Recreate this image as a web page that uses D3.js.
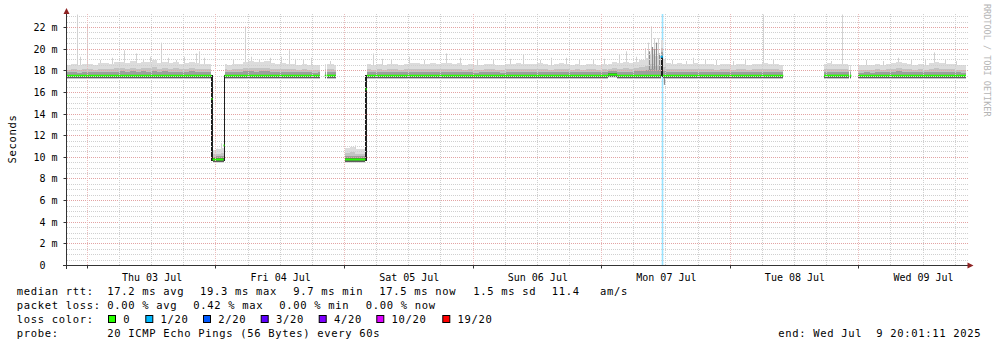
<!DOCTYPE html>
<html><head><meta charset="utf-8">
<script src="https://cdn.jsdelivr.net/npm/d3@7/dist/d3.min.js"></script>
<style>
body{margin:0;background:#fff;}
svg{display:block;font-family:"DejaVu Sans Mono",monospace;}
svg text{white-space:pre;}
</style></head><body>
<svg id="c" width="997" height="347"></svg>
<script>
// ---------------- DATA ----------------
const startTime = new Date(2025, 6, 2, 20, 1, 11);
const endTime   = new Date(2025, 6, 9, 20, 1, 11);
const yTickValues = [0, 2, 4, 6, 8, 10, 12, 14, 16, 18, 20, 22];
const yUnit = "m";

// piecewise median RTT (ms) — hours after start
const segStart  = [0,     27.15, 27.35, 29.4,  29.6,  48.3,  48.65, 52.1,  55.9,  56.15, 101.2, 102.9, 111.0, 111.4, 141.5, 146.35, 147.9];
const segEnd    = [27.15, 27.35, 29.4,  29.6,  47.4,  48.5,  50.35, 55.9,  56.15, 101.2, 102.9, 111.0, 111.4, 133.9, 146.2, 146.6,  168];
const segMedian = [17.55, 15.4,  9.8,   11.1,  17.55, 17.55, 17.55, 9.8,   16.3,  17.55, 17.65, 17.55, 19.3,  17.55, 17.55, 17.55,  17.55];
const segCoreLo = [17.33, 9.65,  9.58,  9.65,  17.33, 17.33, 17.33, 9.58,  9.65,  17.33, 17.4,  17.33, 17.45, 17.33, 17.33, 17.33,  17.33];
const segCoreHi = [17.65, 17.6,  9.9,   17.6,  17.65, 17.65, 17.65, 9.9,   17.6,  17.65, 17.75, 17.65, 19.4,  17.65, 17.65, 17.65,  17.65];
const segLoss   = [0,     0,     0,     0,     0,     0,     0,     0,     0,     0,     0,     0,     1,     0,     0,     0,      0];

// hourly height of the smoke (max ping) above the median, ms
const smokeTopDelta = [
  1.0, 1.1, 0.95, 1.05, 1.1, 1.0, 1.15, 1.2, 1.1, 1.25, 1.3, 1.2,
  1.35, 1.2, 1.3, 1.25, 1.4, 1.2, 1.3, 1.15, 1.25, 1.1, 1.2, 1.3,
  1.2, 1.1, 1.05, 0.9, 1.0, 1.1, 1.0, 1.05, 1.1, 1.3, 1.35, 1.25,
  1.3, 1.35, 1.2, 1.1, 1.15, 1.05, 1.1, 1.0, 1.05, 1.0, 0.95, 1.0,
  1.05, 1.1, 1.0, 1.0, 1.1, 1.2, 1.0, 0.95, 1.05, 1.0, 1.1, 1.0,
  1.05, 1.1, 1.0, 1.1, 1.2, 1.15, 1.1, 1.05, 1.15, 1.1, 1.2, 1.15,
  1.1, 1.15, 1.0, 1.05, 0.95, 1.0, 1.1, 1.05, 1.0, 0.95, 1.05, 1.1,
  1.15, 1.1, 1.05, 1.1, 1.15, 1.05, 1.0, 1.1, 1.15, 1.05, 1.0, 1.05,
  1.0, 1.1, 1.05, 1.0, 1.1, 1.0, 1.15, 1.2, 1.25, 1.2, 1.3, 1.4,
  1.6, 2.0, 1.8, 1.5, 1.2, 1.1, 1.15, 1.05, 1.1, 1.2, 1.1, 1.05,
  1.1, 1.0, 1.05, 1.1, 1.0, 1.05, 1.1, 1.0, 1.05, 1.1, 1.15, 1.05,
  1.05, 1.0, 1.0, 1.0, 1.0, 1.0, 1.0, 1.0, 1.0, 1.1, 1.15, 1.1,
  1.1, 1.05, 1.0, 1.0, 0.95, 1.0, 0.95, 1.05, 1.0, 1.1, 1.15, 1.3,
  1.2, 1.05, 1.0, 1.1, 1.0, 1.15, 1.25, 1.2, 1.05, 1.1, 1.0, 0.95
];

// single slow pings (light smoke spikes): hour, ms
const spikeHour = [2.1, 2.75, 4.1, 6.35, 8.6, 11.0, 13.2, 14.4, 15.7, 17.85, 19.2, 20.7, 22.2, 24.4, 25.0, 25.9,
  28.2, 29.0, 31.2, 33.55, 34.7, 36.2, 38.1, 40.3, 41.8, 42.9, 44.25, 45.9, 49.3, 53.0, 54.1,
  57.35, 59.0, 60.8, 64.2, 67.0, 71.1, 73.55, 76.9, 79.8, 82.9, 85.4, 88.5, 90.7, 93.5, 95.9, 98.4,
  100.6, 103.4, 104.7, 106.5, 108.1, 108.65, 109.3, 109.8, 110.55, 113.3, 115.9, 117.1, 119.3, 121.5,
  124.6, 126.8, 130.2, 132.0, 142.9, 144.9, 149.5, 152.6, 155.4, 157.9, 160.35, 162.2, 164.1, 166.2];
const spikeTop  = [23.2, 19.3, 22.3, 19.0, 19.2, 19.9, 19.6, 19.1, 19.3, 20.6, 19.2, 19.0, 19.3, 19.6, 19.8, 19.2,
  10.8, 11.3, 19.0, 22.1, 19.3, 19.0, 19.2, 19.3, 19.9, 19.1, 19.0, 19.2, 18.9, 10.8, 11.1,
  19.6, 19.1, 19.0, 19.3, 19.0, 19.6, 19.2, 19.0, 19.0, 19.1, 19.5, 19.0, 19.2, 19.2, 19.0, 19.0,
  19.1, 19.5, 19.8, 19.3, 20.1, 20.6, 22.1, 21.0, 21.0, 19.0, 18.9, 19.2, 19.0, 19.0,
  18.9, 19.1, 23.2, 19.0, 18.9, 23.2, 19.0, 18.9, 19.2, 19.0, 19.1, 19.7, 19.0, 18.9];

// dense bursts (darker smoke): hour, ms
const burstHour = [108.9, 109.5, 109.85, 110.3, 110.7, 111.8];
const burstTop  = [19.8, 20.2, 20.0, 20.6, 19.6, 16.7];

// loss bars: start hour, end hour, loss class index
const lossBarStart = [111.2];
const lossBarEnd   = [111.5];
const lossBarClass = [1];

const lossLabels = ["0", "1/20", "2/20", "3/20", "4/20", "10/20", "19/20"];
const lossColors = ["#26ff00", "#00b8ff", "#0059ff", "#5e00ff", "#7e00ff", "#dd00ff", "#ff0000"];

const rttStatValues = [17.2, 19.3, 9.7, 17.5];
const statNames = ["avg", "max", "min", "now"];
const rttSd = 1.5;
const rttAmS = 11.4;
const lossStatValues = [0.00, 0.42, 0.00, 0.00];
const probeText = "20 ICMP Echo Pings (56 Bytes) every 60s";
const endText = "end: Wed Jul  9 20:01:11 2025";

// ---------------- LAYOUT ----------------
const L = 66, R = 966, plotTop = 14, axisY = 265.5;
const svg = d3.select("#c");
const x = d3.scaleTime().domain([startTime, endTime]).range([L, R]);
const y = d3.scaleLinear().domain([0, 22]).range([axisY, 27.5]);
const yMax = y.invert(plotTop);
const xh = h => x(new Date(startTime.getTime() + h * 3600e3));
const crisp = v => Math.floor(v) + 0.5;

const gData = svg.append("g");
const gGrid = svg.append("g");
const gAxis = svg.append("g");

// loss bars
lossBarStart.forEach((s, i) => {
  gData.append("rect")
    .attr("x", xh(s)).attr("width", xh(lossBarEnd[i]) - xh(s))
    .attr("y", plotTop).attr("height", axisY - plotTop)
    .attr("fill", lossColors[lossBarClass[i]]).attr("opacity", 0.4);
});

function medianAt(h) {
  for (let i = 0; i < segStart.length; i++) if (h >= segStart[i] && h < segEnd[i]) return segMedian[i];
  return 17.55;
}
// light spikes
spikeHour.forEach((h, i) => {
  const xx = crisp(xh(h));
  gData.append("line").attr("x1", xx).attr("x2", xx)
    .attr("y1", y(medianAt(h))).attr("y2", Math.max(plotTop, y(spikeTop[i])))
    .attr("stroke", "#d2d2d2").attr("stroke-width", 1);
});

const bands = [
  {lo: -0.3,  frac: 1.0,  color: "#dcdcdc"},
  {lo: -0.27, frac: 0.55, color: "#c4c4c4"},
  {lo: -0.24, frac: 0.3,  color: "#9e9e9e"}
];
function segPoints(s, e) {
  const pts = [s];
  for (let h = Math.floor(s) + 1; h < e; h++) pts.push(h);
  pts.push(e);
  return pts;
}
const topD = p => smokeTopDelta[Math.min(167, Math.floor(p))];

function drawBand(b) {
  segStart.forEach((s, i) => {
    const m = segMedian[i];
    const pts = segPoints(s, segEnd[i]);
    const area = d3.area().curve(d3.curveStepAfter)
      .x(p => xh(p)).y0(() => y(m + b.lo)).y1(p => y(m + topD(p) * b.frac));
    gData.append("path").attr("d", area(pts)).attr("fill", b.color).attr("shape-rendering", "crispEdges");
  });
}
drawBand(bands[0]);
drawBand(bands[1]);
// bursts
burstHour.forEach((h, i) => {
  const xx = crisp(xh(h));
  gData.append("line").attr("x1", xx).attr("x2", xx)
    .attr("y1", y(medianAt(h))).attr("y2", y(burstTop[i]))
    .attr("stroke", "#8c8c8c").attr("stroke-width", 1.2);
});
drawBand(bands[2]);
// cores
segStart.forEach((s, i) => {
  const span = segCoreHi[i] - segCoreLo[i];
  gData.append("rect")
    .attr("x", xh(s)).attr("width", Math.max(1, xh(segEnd[i]) - xh(s)))
    .attr("y", y(segCoreHi[i])).attr("height", y(segCoreLo[i]) - y(segCoreHi[i]))
    .attr("fill", span > 1 ? "#1e1e1e" : "#5e5e5e").attr("shape-rendering", "crispEdges");
});
// medians
segStart.forEach((s, i) => {
  gData.append("line")
    .attr("x1", xh(s)).attr("x2", Math.max(xh(s) + 1, xh(segEnd[i])))
    .attr("y1", y(segMedian[i])).attr("y2", y(segMedian[i]))
    .attr("stroke", lossColors[segLoss[i]]).attr("stroke-width", 2);
});

// grid
d3.range(0.5, yMax, 0.5).forEach(v => {
  const major = Math.abs(v % 2) < 1e-9;
  const yy = crisp(y(v));
  gGrid.append("line").attr("x1", L + 1).attr("x2", 968).attr("y1", yy).attr("y2", yy)
    .attr("stroke", major ? "#e3a3a3" : "#d0d0d0").attr("stroke-dasharray", "1,1");
});
d3.timeHour.every(6).range(startTime, endTime).forEach(t => {
  const major = t.getHours() === 0;
  const xx = crisp(x(t));
  gGrid.append("line").attr("x1", xx).attr("x2", xx).attr("y1", plotTop).attr("y2", axisY - 0.5)
    .attr("stroke", major ? "#ebbcbc" : "#d0d0d0").attr("stroke-dasharray", "1,1");
  if (major) gAxis.append("line").attr("x1", xx).attr("x2", xx).attr("y1", axisY).attr("y2", axisY + 3)
    .attr("stroke", "#333");
});

// axes
const axisColor = "#333";
const yAxis = d3.axisLeft(y).tickValues(yTickValues).tickSize(3).tickPadding(6)
  .tickFormat(d => d === 0 ? "0  " : d + " " + yUnit);
const gy = gAxis.append("g").attr("transform", `translate(${L + 0.5},0)`).call(yAxis);
gy.select(".domain").remove();
gy.selectAll(".tick line").attr("stroke", axisColor);
gy.selectAll(".tick text").attr("font-family", "DejaVu Sans Mono").attr("font-size", 10).attr("fill", "#000");
gy.selectAll(".tick").attr("transform", d => `translate(0,${crisp(y(d))})`);

const labelTimes = d3.timeDay.range(startTime, endTime).map(d => d3.timeHour.offset(d, 12));
const xAxis = d3.axisBottom(x).tickValues(labelTimes).tickSize(0).tickPadding(8)
  .tickFormat(d3.timeFormat("%a %d %b"));
const gx = gAxis.append("g").attr("transform", `translate(0,${axisY})`).call(xAxis);
gx.select(".domain").remove();
gx.selectAll(".tick text").attr("font-family", "DejaVu Sans Mono").attr("font-size", 10).attr("fill", "#000");

gAxis.append("line").attr("x1", 63).attr("x2", 968).attr("y1", axisY).attr("y2", axisY).attr("stroke", axisColor);
gAxis.append("line").attr("x1", L + 0.5).attr("x2", L + 0.5).attr("y1", 269).attr("y2", 13).attr("stroke", axisColor);
const arrowColor = "#8e2323";
gAxis.append("path").attr("d", `M${L + 0.5},8 L${L - 2.5},14 L${L + 3.5},14 Z`).attr("fill", arrowColor);
gAxis.append("path").attr("d", `M973.5,${axisY} L967.5,${axisY - 3} L967.5,${axisY + 3} Z`).attr("fill", arrowColor);

// titles
const legFont = 10.5, legSpacing = 0.68;
svg.append("text").attr("transform", "translate(15.5,139) rotate(-90)").attr("text-anchor", "middle")
  .attr("font-size", legFont).attr("letter-spacing", legSpacing).text("Seconds");
svg.append("text").attr("transform", "translate(984,4) rotate(90)")
  .attr("font-size", 8.5).attr("fill", "#b4b4b4").text("RRDTOOL / TOBI OETIKER");

// legend
const leg = svg.append("g").attr("font-size", legFont).attr("letter-spacing", legSpacing).attr("fill", "#000");
function t(xx, yy, s) { leg.append("text").attr("x", xx).attr("y", yy).text(s); }
const line1X = [107.3, 200, 293.3, 379.3];
t(16.7, 295, "median rtt:");
rttStatValues.forEach((v, i) => t(line1X[i], 295, `${v.toFixed(1)} ms ${statNames[i]}`));
t(473.3, 295, `${rttSd.toFixed(1)} ms sd`);
t(551.7, 295, rttAmS.toFixed(1));
t(600, 295, "am/s");
const line2X = [107.3, 193.3, 279.3, 365.7];
t(16.7, 309.2, "packet loss:");
lossStatValues.forEach((v, i) => t(line2X[i], 309.2, `${v.toFixed(2)} % ${statNames[i]}`));
t(16.7, 322.8, "loss color:");
const boxX = [108.5, 145.8, 203.5, 261.2, 319.2, 376.8, 442.8];
lossLabels.forEach((lab, i) => {
  leg.append("rect").attr("x", boxX[i]).attr("y", 315.5).attr("width", 7).attr("height", 7)
    .attr("fill", lossColors[i]).attr("stroke", "#000").attr("stroke-width", 1);
  t(boxX[i] + 14.8, 322.8, lab);
});
t(16.7, 336.6, "probe:");
t(107.3, 336.6, probeText);
t(778.3, 336.6, endText);
</script>
</body></html>
